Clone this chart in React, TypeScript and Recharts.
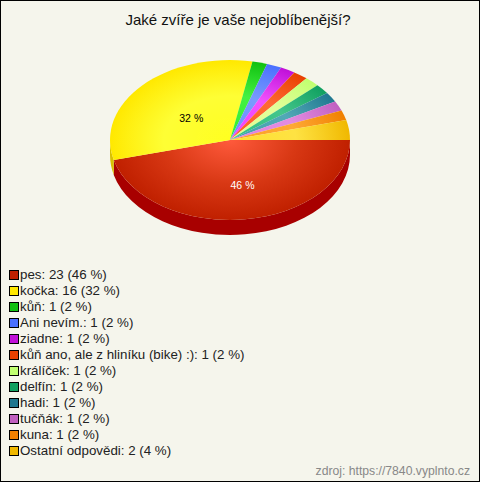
import React from "react";
import { PieChart, Pie, Cell } from "recharts";

const categories = ["pes", "kočka", "kůň", "Ani nevím.", "ziadne", "kůň ano, ale z hliníku (bike) :)", "králíček", "delfín", "hadi", "tučňák", "kuna", "Ostatní odpovědi"];
const counts = [23, 16, 1, 1, 1, 1, 1, 1, 1, 1, 1, 2];
const percents = [46, 32, 2, 2, 2, 2, 2, 2, 2, 2, 2, 4];
const baseColors = ["#c02000", "#ffe800", "#10c010", "#4a70ff", "#c010d8", "#e84000", "#c0ff70", "#10a060", "#207890", "#c060c0", "#f08000", "#f0b800"];
const lightColors = ["#ff5a3c", "#ffff20", "#30f030", "#6a90ff", "#f040ff", "#ff5a20", "#e0ff90", "#30c080", "#40a0b0", "#e080e0", "#ffa020", "#ffe030"];
const wallColors = ["#a80000", "#d8c000", "#08a008", "#3050d0", "#a000b0", "#c03000", "#a0d850", "#088048", "#105868", "#a04098", "#c06000", "#c89800"];

const W = 480, H = 482, CX = 230, CY = 140, RX = 120, RY = 80, DEPTH = 15;
const RATIO = RY / RX;
const FONT = "'Liberation Sans', Arial, sans-serif";
const data = categories.map((name, i) => ({ name, value: counts[i], pct: percents[i] }));
const rad = (a: number) => (a * Math.PI) / 180;
const pt = (cx: number, cy: number, r: number, a: number): [number, number] => [cx + r * Math.cos(rad(a)), cy - r * RATIO * Math.sin(rad(a))];

function TopSector(p: any) {
  const { cx, cy, outerRadius: r, startAngle, endAngle, fill } = p;
  const [x1, y1] = pt(cx, cy, r, startAngle);
  const [x2, y2] = pt(cx, cy, r, endAngle);
  const large = Math.abs(endAngle - startAngle) > 180 ? 1 : 0;
  return <path d={`M${cx},${cy}L${x1},${y1}A${r},${r * RATIO} 0 ${large} 1 ${x2},${y2}Z`} fill={fill} stroke="none" />;
}

function WallSector(p: any) {
  const { cx, cy, outerRadius: r, startAngle, endAngle, fill } = p;
  // only the part of the rim facing the viewer (angles -180..0) is visible
  const s = Math.min(startAngle, 0);
  const e = Math.max(endAngle, -180);
  if (s <= e) return <g />;
  const [x1, y1] = pt(cx, cy, r, s);
  const [x2, y2] = pt(cx, cy, r, e);
  const a = `${r},${r * RATIO}`;
  return <path d={`M${x1},${y1}A${a} 0 0 1 ${x2},${y2}L${x2},${y2 + DEPTH}A${a} 0 0 0 ${x1},${y1 + DEPTH}Z`} fill={fill} stroke="none" />;
}

function SliceLabel(p: any) {
  const { cx, cy, midAngle, payload, index } = p;
  if (payload.pct < 5) return null;
  const [x, y] = pt(cx, cy, 60, midAngle);
  return (
    <text x={x + 5} y={y + 9} textAnchor="middle" fontSize={10.5} fontFamily={FONT} fill={index === 0 ? "#ffffff" : "#000000"}>
      {payload.pct} %
    </text>
  );
}

function LegendList() {
  return (
    <div style={{ position: "absolute", left: 9, top: 267, fontFamily: FONT, fontSize: 13.33, lineHeight: "16px", color: "#222222", whiteSpace: "nowrap" }}>
      {data.map((d, i) => (
        <div key={d.name} style={{ height: 16, display: "flex", alignItems: "center" }}>
          <span style={{ display: "inline-block", boxSizing: "border-box", width: 8, height: 8, outline: "1px solid #000", background: baseColors[i], margin: "0 1px 0 1px" }} />
          <span style={{ marginLeft: 1 }}>{`${d.name}: ${d.value} (${d.pct} %)`}</span>
        </div>
      ))}
    </div>
  );
}

export default function App() {
  return (
    <div style={{ position: "absolute", left: 0, top: 0, width: W, height: H, boxSizing: "border-box", background: "#f5f5ec", border: "1px solid #000", overflow: "hidden" }}>
      <div style={{ position: "absolute", left: 0, top: 0 }}>
        <PieChart width={W} height={H} margin={{ top: 0, right: 0, bottom: 0, left: 0 }}>
          <defs>
            {baseColors.map((c, i) => (
              <radialGradient key={c} id={`g${i}`} gradientUnits="userSpaceOnUse" cx={0} cy={0} r={1} gradientTransform={`translate(${CX - 1} ${CY - 1}) scale(${RX} ${RY})`}>
                <stop offset="0" stopColor={lightColors[i]} />
                <stop offset="0.55" stopColor={i === 0 ? "#d83814" : lightColors[i]} stopOpacity={i === 0 ? 1 : 0.9} />
                <stop offset="1" stopColor={c} />
              </radialGradient>
            ))}
          </defs>
          <Pie data={data} dataKey="value" nameKey="name" cx={CX - 1} cy={CY - 1} innerRadius={0} outerRadius={RX} startAngle={0} endAngle={-360} paddingAngle={0} stroke="none" isAnimationActive={false} shape={WallSector} legendType="none">
            {data.map((d, i) => <Cell key={d.name} fill={wallColors[i]} />)}
          </Pie>
          <Pie data={data} dataKey="value" nameKey="name" cx={CX - 1} cy={CY - 1} innerRadius={0} outerRadius={RX} startAngle={0} endAngle={-360} paddingAngle={0} stroke="none" isAnimationActive={false} shape={TopSector} label={SliceLabel} labelLine={false}>
            {data.map((d, i) => <Cell key={d.name} fill={`url(#g${i})`} />)}
          </Pie>
        </PieChart>
      </div>
      <div style={{ position: "absolute", left: 0, width: W - 2, top: 10, textAlign: "center", fontFamily: FONT, fontSize: 15, lineHeight: "18px", color: "#111" }}>
        <span style={{ position: "relative", left: -2 }}>Jaké zvíře je vaše nejoblíbenější?</span>
      </div>
      <div style={{ position: "absolute", left: -1, top: -1 }}><LegendList /></div>
      <div style={{ position: "absolute", right: 9, top: 463, fontFamily: FONT, fontSize: 12.2, lineHeight: "14px", color: "#888888" }}>zdroj: https://7840.vyplnto.cz</div>
    </div>
  );
}
